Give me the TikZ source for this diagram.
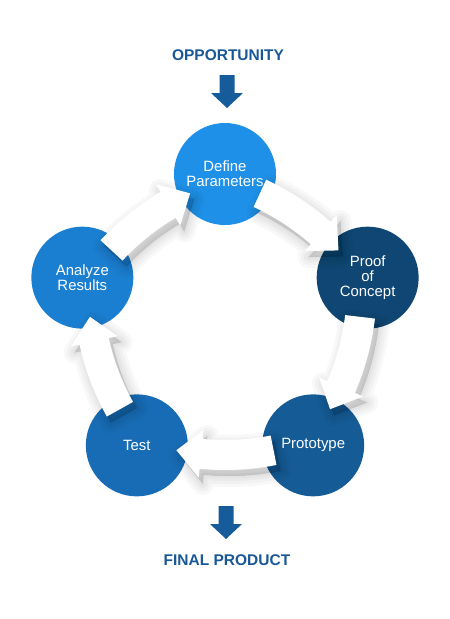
\documentclass[tikz,border=0pt]{standalone}
\usepackage{fontspec}
\setmainfont{Liberation Sans}
\usepackage{tikz}
\usetikzlibrary{calc}
\definecolor{defineblue}{RGB}{30,144,232}
\definecolor{analyzeblue}{RGB}{27,127,209}
\definecolor{testblue}{RGB}{24,108,181}
\definecolor{protoblue}{RGB}{21,92,151}
\definecolor{proofblue}{RGB}{15,70,115}
\definecolor{headblue}{RGB}{24,88,150}
\definecolor{arrowblue}{RGB}{22,92,155}
% block arrow, #2 = direction of its middle, #3 = offset (for the shade)
\newcommand{\cyclearrow}[3]{%
  \begin{scope}[shift={#3}, rotate=#2, shift={(-119,0)}]
  \filldraw[#1] (11.2:265) arc[start angle=11.2, end angle=-5.5, radius=265]
    -- (-5.5:274) -- (-11.2:250) -- (-5.5:226) -- (-5.5:235)
    arc[start angle=-5.5, end angle=11.2, radius=235] -- cycle;
  \end{scope}}
\newcommand{\downblock}[1]{%
  \fill[arrowblue, shift={#1}] (-7.5,0) -- (-7.5,-18) -- (-16,-18) -- (0,-33)
    -- (16,-18) -- (7.5,-18) -- (7.5,0) -- cycle;}

\begin{document}
\begin{tikzpicture}[x=1pt, y=1pt,
  stage/.style={circle, minimum size=102pt, inner sep=0pt, text=white, align=center,
    font=\fontsize{14.9}{15}\selectfont},
  heading/.style={text=headblue, font=\fontsize{15.5}{18}\selectfont\bfseries},
  flow/.style={fill=white, draw=none},
  flowshade/.style={fill=black, draw=black, opacity=0.028, line width=#1,
    line join=round}]
\useasboundingbox (0,0) rectangle (450,-619);

\node[heading] (opportunity) at (228,-55) {OPPORTUNITY};
\node[heading] (final) at (227,-560) {FINAL PRODUCT};
\downblock{(227,-75)}
\downblock{(226,-506)}

\begin{scope}[shift={(225,-324)}]
\foreach \a/\n/\c/\t in {90/define/defineblue/{Define\\Parameters},
    18/proof/proofblue/{Proof\\of\\Concept},
    -54/prototype/protoblue/{Prototype},
    -126/test/testblue/{Test},
    162/analyze/analyzeblue/{Analyze\\Results}}
  \node[stage, fill=\c] (\n) at (\a:150) {\t};

\foreach \m in {54,-18,-90,-162,126} {
  \foreach \w in {22,16,10,5,1} {\cyclearrow{flowshade=\w}{\m}{(4,-6)}}
  \cyclearrow{flow}{\m}{(0,0)}
}
\end{scope}
\end{tikzpicture}
\end{document}
